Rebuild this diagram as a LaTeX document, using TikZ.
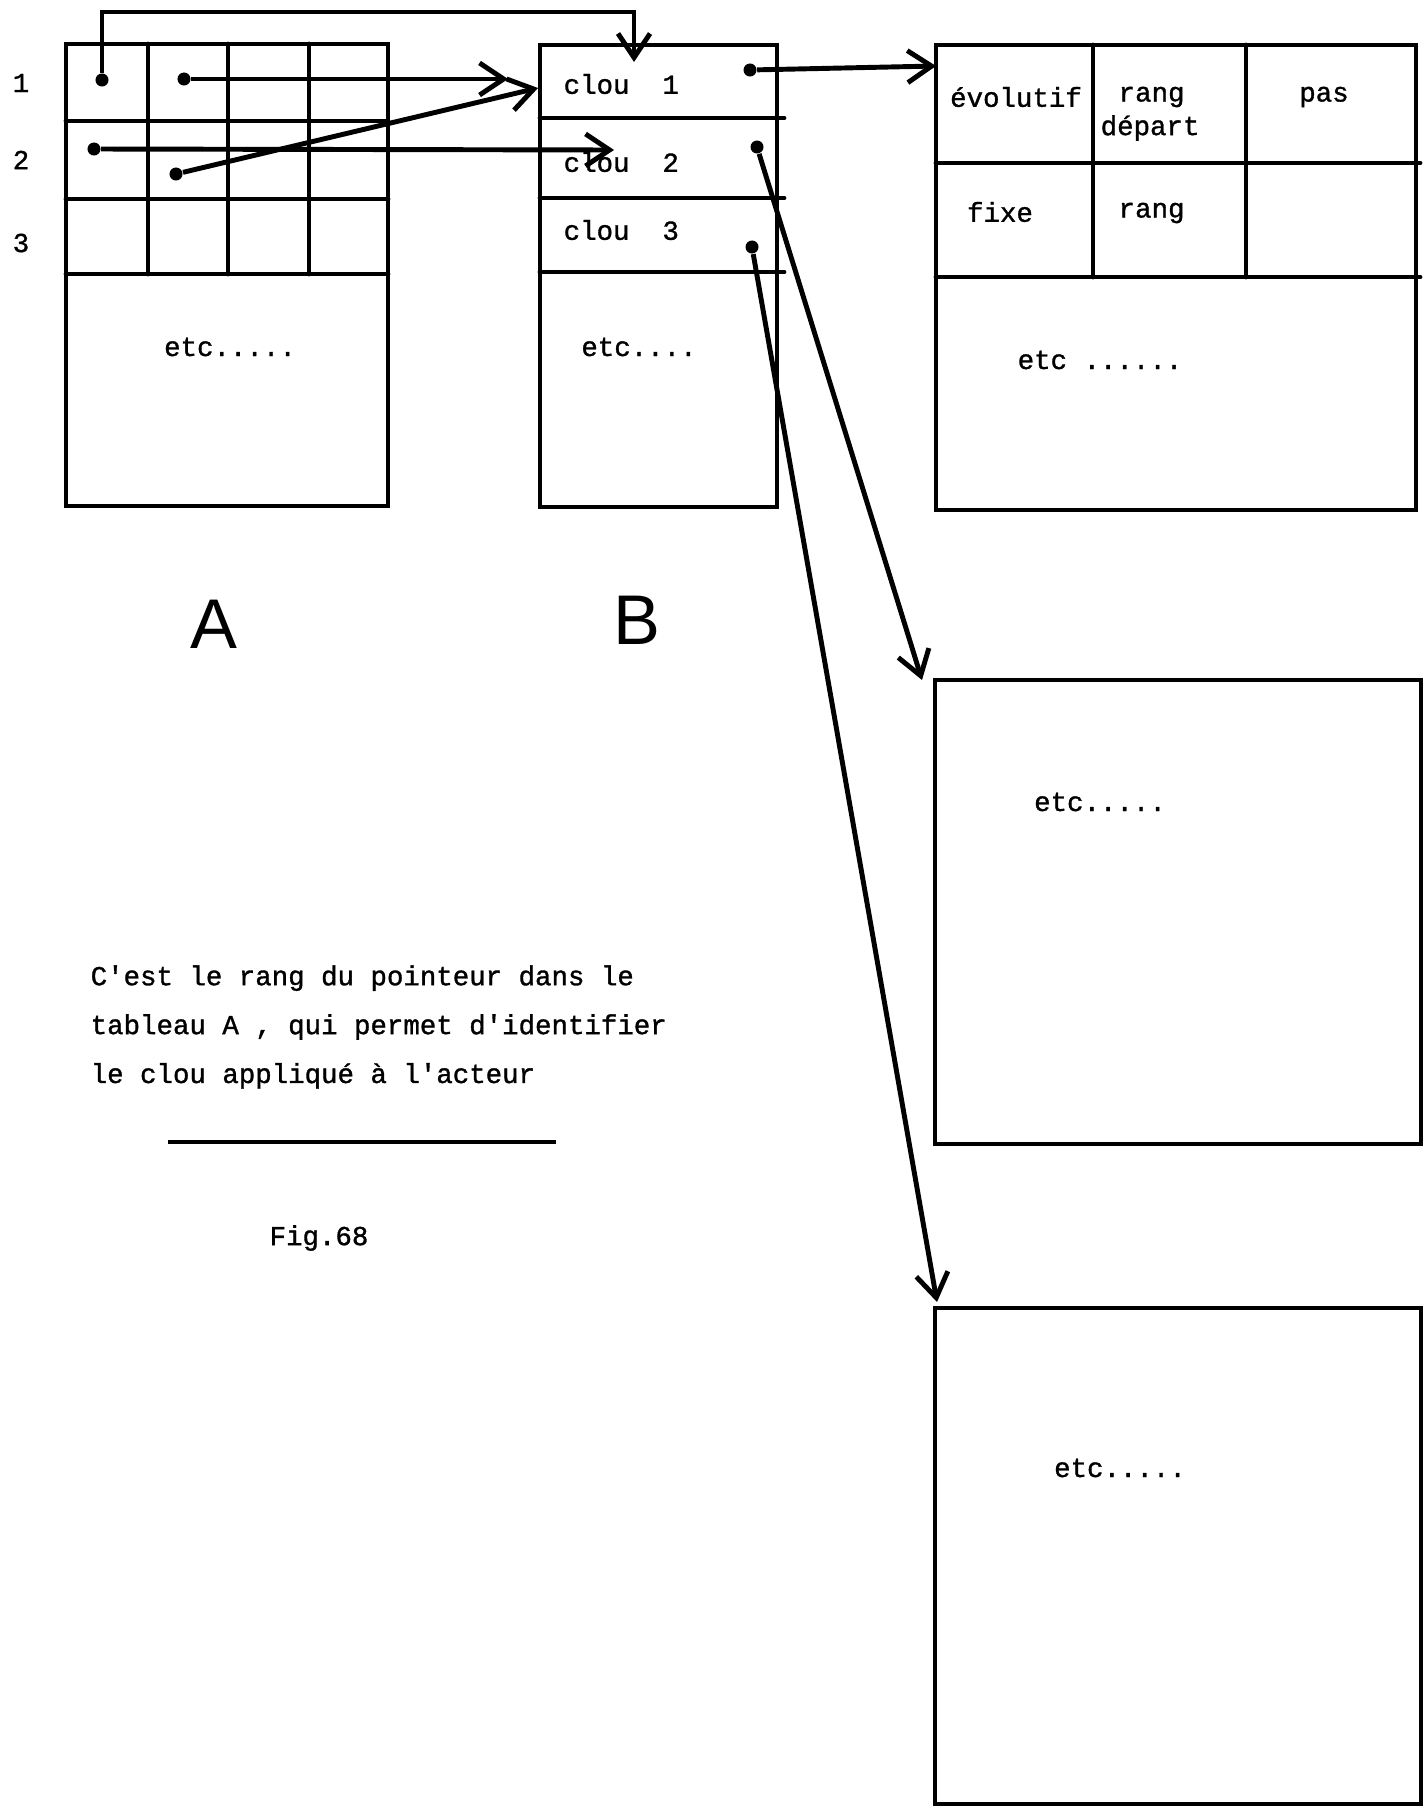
\documentclass[tikz,border=0pt]{standalone}
\usepackage{fontspec}
\setmonofont{Liberation Mono}[FakeBold=1.2]
\setsansfont{Liberation Sans}
\usetikzlibrary{arrows.meta}
\tikzset{
  frame/.style={line width=1.4pt,line cap=round},
  ptr/.style={line width=1.4pt,-{Straight Barb[length=2.4mm,width=3.2mm]}},
  dot/.style={circle,fill,inner sep=0pt,minimum size=1.3mm},
  txt/.style={font=\ttfamily\fontsize{7.8}{9.4}\selectfont,inner sep=0pt},
  big/.style={font=\sffamily\fontsize{20}{24}\selectfont,inner sep=0pt}
}

\begin{document}
\begin{tikzpicture}[x=0.01cm,y=-0.01cm]
\useasboundingbox (0,0) rectangle (1428,1818);
% tableau A
\draw[frame] (66,44) rectangle (388,506);
\foreach \y in {121,199,274} \draw[frame] (66,\y) -- (388,\y);
\foreach \x in {148,228,309} \draw[frame] (\x,44) -- (\x,274);
\node[txt] at (21,83) {1};
\node[txt] at (21,160) {2};
\node[txt] at (21,243) {3};
\node[txt] at (230,347) {etc.....};
\node[big] (labA) at (214,624) {A};
% tableau B
\draw[frame] (540,45) rectangle (777,507);
\foreach \y in {118,198,272} \draw[frame] (540,\y) -- (784,\y);
\node[txt,anchor=west] at (563,84) {clou\ \ 1};
\node[txt,anchor=west] at (563,162) {clou\ \ 2};
\node[txt,anchor=west] at (563,230) {clou\ \ 3};
\node[txt] at (639,347) {etc....};
\node[big] (labB) at (637,620) {B};
% clou 1
\draw[frame] (936,45) rectangle (1416,510);
\foreach \y in {163,277} \draw[frame] (936,\y) -- (1420,\y);
\foreach \x in {1093,1246} \draw[frame] (\x,45) -- (\x,277);
\node[txt] at (1016,97) {évolutif};
\node[txt,anchor=west] at (1118,97) {rang};
\node[txt,anchor=west] at (1100,128) {départ};
\node[txt] at (1324,97) {pas};
\node[txt] at (1000,212) {fixe};
\node[txt,anchor=west] at (1118,213) {rang};
\node[txt] at (1100,360) {etc ......};
% clou 2, clou 3
\draw[frame] (935,680) rectangle (1421,1144);
\node[txt] at (1100,802) {etc.....};
\draw[frame] (935,1308) rectangle (1421,1804);
\node[txt] at (1120,1468) {etc.....};
% pointeurs
\node[dot] (a11) at (102,80) {};
\node[dot] (a12) at (184,79) {};
\node[dot] (a21) at (94,149) {};
\node[dot] (a22) at (176,174) {};
\node[dot] (b1) at (750,70) {};
\node[dot] (b2) at (757,147) {};
\node[dot] (b3) at (752,247) {};
\coordinate (hook) at (400,12);
\coordinate (b1top) at (634,62);
\coordinate (b1w) at (508,79);
\coordinate (b2w) at (614,150);
\coordinate (b1sw) at (538,88);
\coordinate (cw) at (936,66);
\coordinate (dnw) at (922,680);
\coordinate (enw) at (937,1302);
\draw[ptr] (a11) |- (hook) -| (b1top);
\draw[ptr] (a12) -- (b1w);
\draw[ptr] (a21) -- (b2w);
\draw[ptr] (a22) -- (b1sw);
\draw[ptr] (b1) -- (cw);
\draw[ptr] (b2) -- (dnw);
\draw[ptr] (b3) -- (enw);
% commentaire
\node[txt,anchor=west,align=left,font=\ttfamily\fontsize{7.8}{13.9}\selectfont] (note) at (90,1027)
  {C'est le rang du pointeur dans le\\tableau A , qui permet d'identifier\\le clou appliqué à l'acteur};
\draw[line width=0.9pt] (168,1142) -- (556,1142);
\node[txt] (fig) at (319,1238) {Fig.68};
\end{tikzpicture}
\end{document}
